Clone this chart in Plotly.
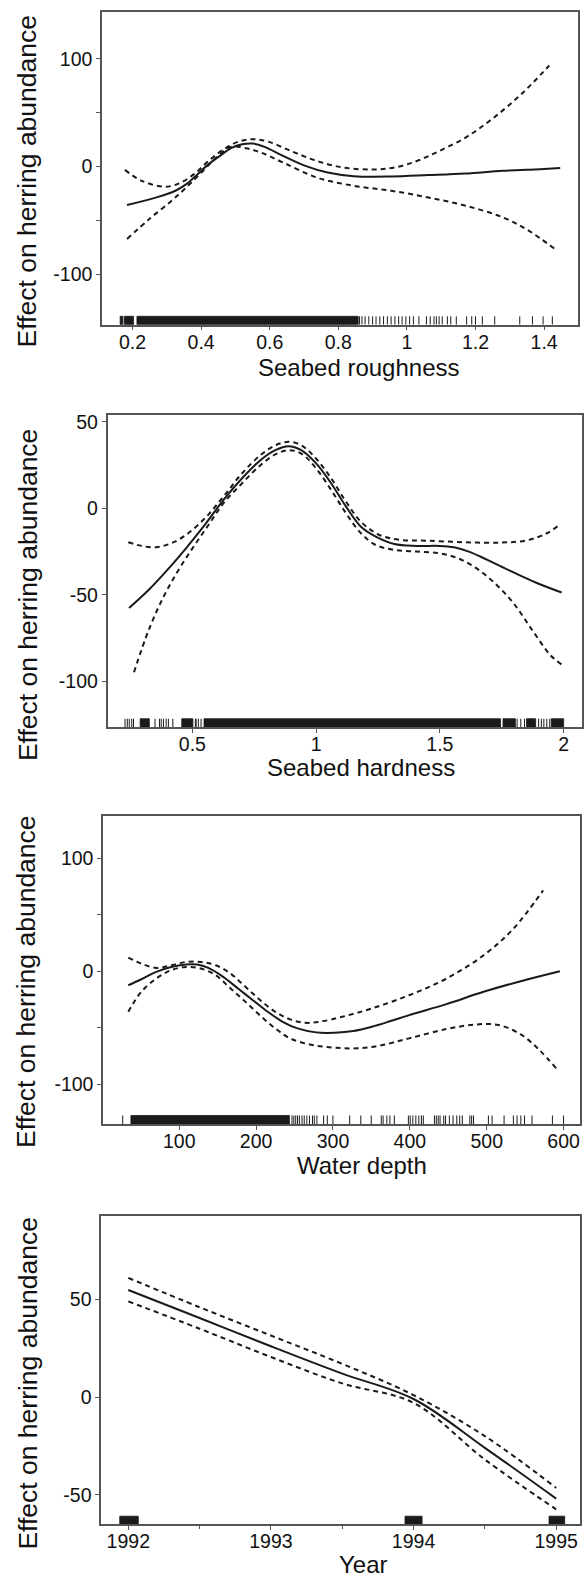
import plotly.graph_objects as go

W, H = 584, 1577

# ---------------- Panel 1: Seabed roughness ----------------
rough_fit_x = [0.184, 0.27, 0.325, 0.357, 0.39, 0.422, 0.455, 0.487, 0.52, 0.552, 0.585, 0.639, 0.704,
               0.769, 0.845, 0.954, 1.062, 1.171, 1.279, 1.388, 1.447]
rough_fit = [-35.8, -28.7, -22.5, -16.4, -7.1, 2.2, 9.9, 17.0, 20.7, 21.3, 18.2, 9.9, 0.6,
             -5.6, -9.0, -9.3, -8.0, -6.5, -4.0, -2.5, -1.5]
rough_up_x = [0.178, 0.227, 0.292, 0.336, 0.379, 0.422, 0.466, 0.509, 0.552, 0.596, 0.661, 0.737, 0.813,
              0.9, 0.965, 1.03, 1.095, 1.171, 1.247, 1.333, 1.415]
rough_up = [-3.1, -13.3, -18.8, -15.7, -7.1, 5.2, 16.0, 23.1, 25.3, 23.1, 14.5, 5.2, -0.9,
            -2.8, -0.9, 5.2, 14.5, 26.9, 43.8, 67.0, 93.8]
rough_lo_x = [0.184, 0.249, 0.314, 0.357, 0.401, 0.444, 0.487, 0.531, 0.574, 0.639, 0.737, 0.845, 0.954,
              1.062, 1.171, 1.279, 1.355, 1.431]
rough_lo = [-67.3, -48.8, -31.8, -19.4, -5.6, 8.3, 18.2, 17.0, 13.0, 3.7, -10.2, -17.9, -22.5,
            -28.7, -36.4, -47.2, -59.6, -76.5]
rough_rug = [0.862, 0.869, 0.878, 0.889, 0.9, 0.91, 0.921, 0.932, 0.943, 0.954, 0.965, 0.976, 0.986,
             0.997, 1.008, 1.019, 1.035, 1.057, 1.068, 1.079, 1.086, 1.094, 1.103, 1.118, 1.128, 1.144,
             1.174, 1.189, 1.2, 1.22, 1.256, 1.329, 1.366, 1.397, 1.424]
rough_rug_dense = [(0.164, 0.172), (0.176, 0.203), (0.213, 0.858)]

# ---------------- Panel 2: Seabed hardness ----------------
hard_fit_x = [0.244, 0.324, 0.399, 0.474, 0.55, 0.625, 0.7, 0.775, 0.835, 0.888, 0.94, 1.0, 1.061, 1.121,
              1.181, 1.241, 1.316, 1.406, 1.497, 1.557, 1.617, 1.692, 1.782, 1.887, 1.992]
hard_fit = [-57.7, -47.1, -35.6, -23.1, -9.6, 4.8, 17.3, 27.9, 33.7, 36.0, 33.7, 26.0, 14.4, 1.0,
            -10.6, -16.3, -20.6, -21.7, -21.7, -22.5, -25.0, -29.8, -36.0, -42.9, -48.7]
hard_up_x = [0.241, 0.294, 0.354, 0.414, 0.474, 0.55, 0.625, 0.7, 0.775, 0.835, 0.888, 0.94, 1.0, 1.061,
             1.121, 1.181, 1.256, 1.346, 1.451, 1.602, 1.752, 1.857, 1.932, 1.977]
hard_up = [-19.6, -21.7, -22.5, -20.2, -15.4, -5.8, 6.7, 20.2, 30.8, 36.5, 38.5, 36.5, 28.8, 17.3,
           3.8, -7.7, -15.4, -18.3, -18.7, -19.6, -19.8, -18.3, -14.4, -10.2]
hard_lo_x = [0.264, 0.324, 0.384, 0.444, 0.505, 0.565, 0.625, 0.7, 0.775, 0.835, 0.888, 0.94, 1.0, 1.061,
             1.121, 1.181, 1.241, 1.316, 1.406, 1.497, 1.572, 1.647, 1.722, 1.797, 1.872, 1.947, 1.992]
hard_lo = [-94.8, -70.2, -51.0, -35.6, -22.1, -9.6, 2.9, 14.4, 25.0, 31.2, 33.7, 31.7, 23.1, 10.6,
           -2.9, -14.4, -21.2, -24.0, -25.0, -26.0, -28.8, -34.6, -43.3, -54.8, -70.2, -85.0, -90.4]
hard_rug = [0.228, 0.237, 0.245, 0.255, 0.262, 0.349, 0.367, 0.374, 0.383, 0.394, 0.403, 0.421,
            0.512, 0.515, 0.524, 0.535, 1.812, 1.827, 1.842, 1.899, 1.91, 1.92, 1.932, 1.944]
hard_rug_dense = [(0.289, 0.326), (0.457, 0.502), (0.547, 1.745), (1.755, 1.805), (1.85, 1.887), (1.95, 2.0)]

# ---------------- Panel 3: Water depth ----------------
depth_fit_x = [33.7, 50.6, 70, 89.4, 108.7, 123.2, 137.8, 157.1, 176.5, 195.8, 215.2, 234.6, 253.9, 278.1,
               302.3, 326.5, 350.7, 374.9, 399.1, 447.5, 495.9, 544.3, 595.2]
depth_fit = [-12.4, -7.1, -0.6, 3.8, 5.9, 5.9, 2.9, -5.0, -15.3, -25.6, -35.9, -44.7, -50.6, -54.1,
             -54.4, -52.9, -49.1, -44.1, -38.8, -29.1, -18.2, -8.8, 0.0]
depth_up_x = [33.7, 50.6, 70, 89.4, 108.7, 128.1, 147.4, 166.8, 186.2, 205.5, 224.9, 244.2, 263.6, 283,
              312, 350.7, 399.1, 447.5, 495.9, 534.6, 573.4]
depth_up = [12.1, 6.8, 2.9, 5.3, 8.2, 8.2, 5.3, -2.1, -13.8, -25.6, -35.9, -42.6, -45.6, -44.7,
            -40.3, -32.9, -21.2, -6.5, 14.1, 37.6, 71.5]
depth_lo_x = [33.7, 50.6, 70, 89.4, 108.7, 128.1, 147.4, 166.8, 186.2, 205.5, 224.9, 244.2, 273.2, 302.3,
              331.4, 360.4, 399.1, 447.5, 486.3, 515.3, 544.3, 568.5, 590.3]
depth_lo = [-35.9, -18.2, -6.5, 0.9, 3.8, 2.4, -3.5, -15.3, -27.1, -39.4, -50.6, -59.4, -65.3, -67.6,
            -68.2, -65.9, -59.4, -51.2, -47.1, -47.6, -55.9, -69.7, -85.9]
depth_rug = [26.4, 246.7, 249.1, 251.5, 253.9, 256.3, 259.7, 262.6, 266, 269.4, 273.3, 275.7, 279.1, 287.8,
             292.6, 299.9, 321.7, 336.2, 349.8, 362.8, 365.2, 370.1, 374, 379.8, 398.1, 400.5, 403.9,
             407.8, 411.7, 415.1, 417.5, 432, 434.4, 436.9, 439.3, 444.1, 446.5, 451.4, 456.2, 461.1,
             464.9, 468.3, 478, 480.4, 482.8, 502.2, 507, 522.6, 534.7, 539.5, 544.4, 549.2, 558.9,
             585.5, 600]
depth_rug_dense = [(37.1, 243.3)]

# ---------------- Panel 4: Year ----------------
year_x = [1992, 1992.5, 1993, 1993.5, 1994, 1994.5, 1995]
year_fit = [54.8, 40.5, 26.0, 12.0, -1.0, -26.0, -52.0]
year_up = [61.0, 46.0, 31.5, 17.0, 1.0, -20.0, -46.5]
year_lo = [49.0, 35.0, 20.5, 7.0, -3.0, -32.0, -57.5]
year_rug = []
year_rug_dense = [(1991.94, 1992.07), (1993.94, 1994.06), (1994.95, 1995.06)]

# axis labels / ticks
x_titles = ["Seabed roughness", "Seabed hardness", "Water depth", "Year"]
y_title = "Effect on herring abundance"
rough_ticks = [0.2, 0.4, 0.6, 0.8, 1.0, 1.2, 1.4]
rough_ticktext = ["0.2", "0.4", "0.6", "0.8", "1", "1.2", "1.4"]
hard_ticks = [0.5, 1.0, 1.5, 2.0]
hard_ticktext = ["0.5", "1", "1.5", "2"]
depth_ticks = [100, 200, 300, 400, 500, 600]
year_ticks = [1992, 1993, 1994, 1995]
y_ticks_wide = [-100, -50, 0, 50, 100]
y_ticktext_wide = ["-100", "", "0", "", "100"]
y_ticks_hard = [-100, -50, 0, 50]
y_ticktext_hard = ["-100", "-50", "0", "50"]
y_ticks_year = [-50, 0, 50]
y_ticktext_year = ["-50", "0", "50"]

# ---------------- layout geometry (pixels) ----------------
panels = [
    dict(px=(102, 578.3), py=(7, 320.7), xr=(0.1111, 1.4997), yr=(-146.9, 143.5),
         fit=(rough_fit_x, rough_fit), up=(rough_up_x, rough_up), lo=(rough_lo_x, rough_lo),
         rug=rough_rug, dense=rough_rug_dense, rugpx=8.4,
         xt=(rough_ticks, rough_ticktext), yt=(y_ticks_wide, y_ticktext_wide),
         ytitle=(27, 177), xtitle=(359, 364)),
    dict(px=(107.5, 582.2), py=(411.7, 724.3), xr=(0.157, 2.075), yr=(-126.5, 53.8),
         fit=(hard_fit_x, hard_fit), up=(hard_up_x, hard_up), lo=(hard_lo_x, hard_lo),
         rug=hard_rug, dense=hard_rug_dense, rugpx=8.3,
         xt=(hard_ticks, hard_ticktext), yt=(y_ticks_hard, y_ticktext_hard),
         ytitle=(28, 592), xtitle=(361, 765)),
    dict(px=(103.1, 580.4), py=(814, 1122.7), xr=(0.9, 621.9), yr=(-135.3, 137),
         fit=(depth_fit_x, depth_fit), up=(depth_up_x, depth_up), lo=(depth_lo_x, depth_lo),
         rug=depth_rug, dense=depth_rug_dense, rugpx=8.7,
         xt=(depth_ticks, [str(v) for v in depth_ticks]), yt=(y_ticks_wide, y_ticktext_wide),
         ytitle=(26, 980), xtitle=(362, 1164)),
    dict(px=(101.2, 580.4), py=(1214.5, 1524), xr=(1991.81, 1995.17), yr=(-65.1, 92.9),
         fit=(year_x, year_fit), up=(year_x, year_up), lo=(year_x, year_lo),
         rug=year_rug, dense=year_rug_dense, rugpx=8,
         xt=(year_ticks, [str(v) for v in year_ticks]), yt=(y_ticks_year, y_ticktext_year),
         ytitle=(28, 1383), xtitle=(363, 1564)),
]

FONT = "Liberation Sans, Arial, Helvetica, sans-serif"
AX = "#555555"
INK = "#1a1a1a"
TICK_SIZE = 19.5

fig = go.Figure()
layout = dict(width=W, height=H, margin=dict(l=0, r=0, t=0, b=0),
              paper_bgcolor="white", plot_bgcolor="white", showlegend=False,
              font=dict(family=FONT, color="#111111"))
annotations = []

for i, p in enumerate(panels, start=1):
    xa = "x" if i == 1 else f"x{i}"
    ya = "y" if i == 1 else f"y{i}"
    xkey = "xaxis" if i == 1 else f"xaxis{i}"
    ykey = "yaxis" if i == 1 else f"yaxis{i}"
    (l, r), (t, b) = p["px"], p["py"]
    y0, y1 = p["yr"]
    rug_h = p["rugpx"] * (y1 - y0) / (b - t)

    # rug: dense blocks
    rx, ry = [], []
    for a, c in p["dense"]:
        rx += [a, c, c, a, a, None]
        ry += [y0, y0, y0 + rug_h, y0 + rug_h, y0, None]
    if rx:
        fig.add_trace(go.Scatter(x=rx, y=ry, mode="lines", fill="toself", fillcolor=INK,
                                 line=dict(color=INK, width=0.8), xaxis=xa, yaxis=ya,
                                 hoverinfo="skip"))
    # rug: individual ticks
    tx, ty = [], []
    for v in p["rug"]:
        tx += [v, v, None]
        ty += [y0, y0 + rug_h, None]
    if tx:
        fig.add_trace(go.Scatter(x=tx, y=ty, mode="lines", line=dict(color=INK, width=1),
                                 xaxis=xa, yaxis=ya, hoverinfo="skip"))

    # confidence bands
    for key in ("up", "lo"):
        xs, ys = p[key]
        fig.add_trace(go.Scatter(x=xs, y=ys, mode="lines", line_shape="spline",
                                 line=dict(color=INK, width=2, dash="5px,4px"),
                                 xaxis=xa, yaxis=ya))
    xs, ys = p["fit"]
    fig.add_trace(go.Scatter(x=xs, y=ys, mode="lines", line_shape="spline",
                             line=dict(color=INK, width=2), xaxis=xa, yaxis=ya))

    xaxis = dict(domain=[l / W, r / W], range=list(p["xr"]), anchor=ya,
                 showline=True, mirror=True, linecolor=AX, linewidth=1.5,
                 ticks="outside", ticklen=4, tickcolor=AX, tickwidth=1.2,
                 showgrid=False, zeroline=False,
                 tickmode="array", tickvals=p["xt"][0], ticktext=p["xt"][1],
                 tickfont=dict(size=TICK_SIZE, family=FONT, color="#111111"),
                 ticklabelstandoff=-5)
    if i == 4:
        xaxis["minor"] = dict(tickmode="array", tickvals=[1992.5, 1993.5, 1994.5],
                              ticks="outside", ticklen=3, tickcolor=AX)
    yaxis = dict(domain=[1 - b / H, 1 - t / H], range=list(p["yr"]), anchor=xa,
                 showline=True, mirror=True, linecolor=AX, linewidth=1.5,
                 ticks="outside", ticklen=4, tickcolor=AX, tickwidth=1.2,
                 showgrid=False, zeroline=False,
                 tickmode="array", tickvals=p["yt"][0], ticktext=p["yt"][1],
                 tickfont=dict(size=TICK_SIZE, family=FONT, color="#111111"),
                 ticklabelstandoff=0)
    layout[xkey] = xaxis
    layout[ykey] = yaxis

    annotations.append(dict(text=y_title, textangle=-90, xref="paper", yref="paper",
                            x=p["ytitle"][0] / W, y=1 - p["ytitle"][1] / H,
                            xanchor="center", yanchor="middle", showarrow=False,
                            font=dict(size=26.5, family=FONT, color="#111111")))
    annotations.append(dict(text=x_titles[i - 1], xref="paper", yref="paper",
                            x=p["xtitle"][0] / W, y=1 - p["xtitle"][1] / H,
                            xanchor="center", yanchor="middle", showarrow=False,
                            font=dict(size=24, family=FONT, color="#111111")))

layout["annotations"] = annotations
fig.update_layout(**layout)
fig.write_html("out.html")
